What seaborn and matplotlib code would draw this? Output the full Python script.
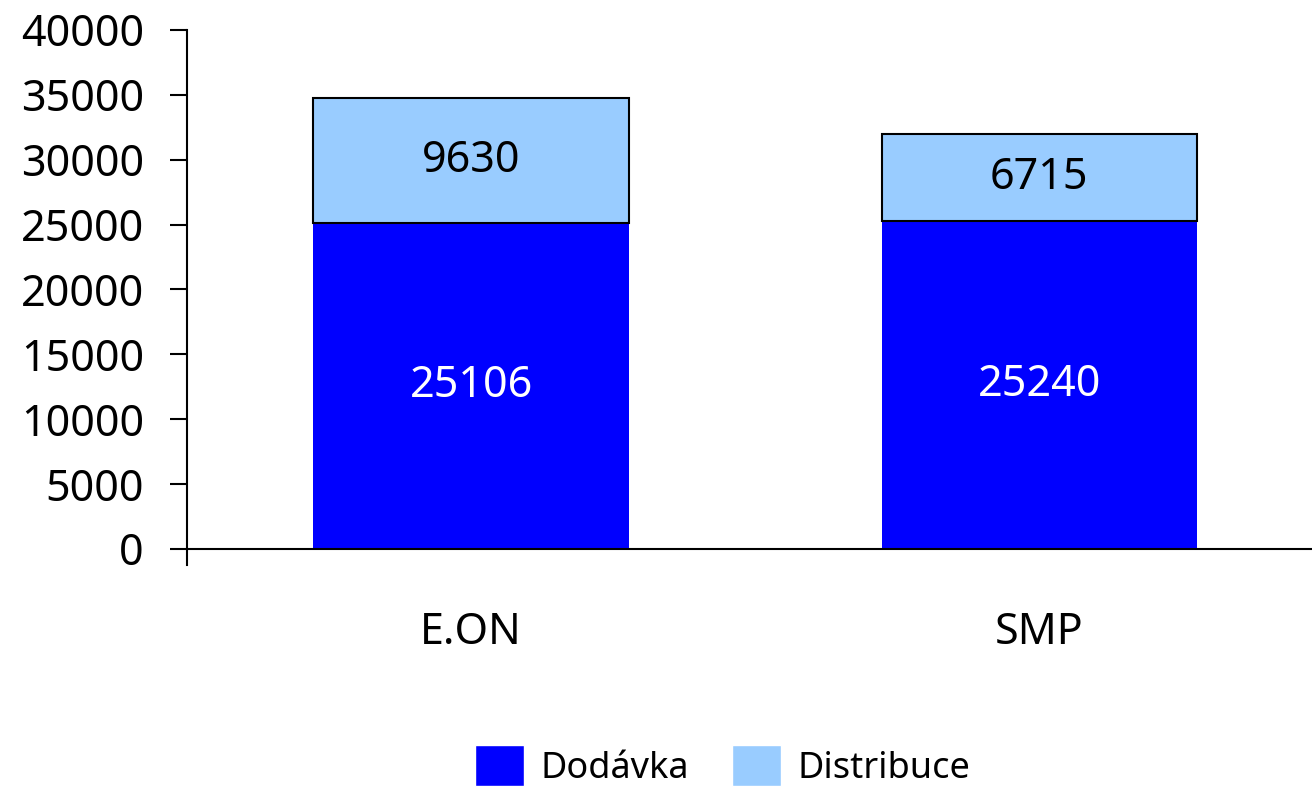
import matplotlib
matplotlib.use('Agg')
import matplotlib.pyplot as plt
import seaborn as sns
import pandas as pd
from matplotlib.patches import Patch

# data
companies = ['E.ON', 'SMP']
dodavka = [25106, 25240]
distribuce = [9630, 6715]
y_ticks = [0, 5000, 10000, 15000, 20000, 25000, 30000, 35000, 40000]

c_dod = '#0000FF'
c_dis = '#99CCFF'

sns.set_style('white')
plt.rcParams['font.family'] = ['Noto Sans', 'DejaVu Sans']
plt.rcParams['text.color'] = 'black'

fs = 31

df = pd.DataFrame({'firma': companies, 'Dodávka': dodavka, 'Distribuce': distribuce})

fig = plt.figure(figsize=(13.12, 7.87), dpi=100)
ax = fig.add_axes([0.1425, 0.2821, 0.8575, 0.6798])

sns.barplot(data=df, x='firma', y='Dodávka', color=c_dod, saturation=1,
            width=0.555, linewidth=0, ax=ax)
sns.barplot(data=df, x='firma', y='Distribuce', color=c_dis, saturation=1,
            width=0.555, bottom=df['Dodávka'].values, edgecolor='black',
            linewidth=1.5, ax=ax)

ax.bar_label(ax.containers[0], labels=[str(v) for v in dodavka],
             label_type='center', color='white', fontsize=fs)
ax.bar_label(ax.containers[1], labels=[str(v) for v in distribuce],
             label_type='center', color='black', fontsize=fs)

ax.set_ylim(-1233, 40000)
ax.set_xlim(-0.5, 1.48)
ax.set_yticks(y_ticks)
ax.set_xlabel('')
ax.set_ylabel('')
ax.axhline(0, color='black', lw=1.5, zorder=5)

for s in ['top', 'right', 'bottom']:
    ax.spines[s].set_visible(False)
ax.spines['left'].set_color('black')
ax.spines['left'].set_linewidth(1.5)

ax.tick_params(axis='y', left=True, length=12, width=1.5, pad=19,
               labelsize=fs, colors='black')
ax.tick_params(axis='x', length=0, pad=33, labelsize=fs, colors='black')

handles = [Patch(facecolor=c_dod, label='Dodávka'),
           Patch(facecolor=c_dis, label='Distribuce')]
fig.legend(handles=handles, loc='upper left', bbox_to_anchor=(0.362, 0.053),
           ncol=2, frameon=False, handlelength=1.36, handleheight=1.36,
           handletextpad=0.45, columnspacing=1.2, borderaxespad=0,
           borderpad=0, labelcolor='black', fontsize=26)

fig.savefig('out.png', dpi=100)
